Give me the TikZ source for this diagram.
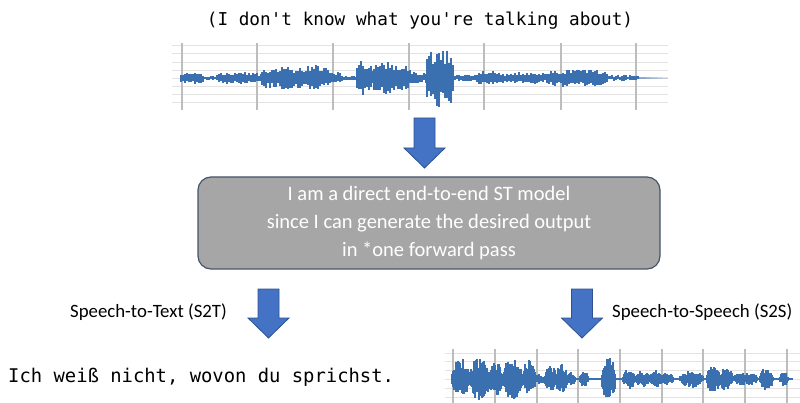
\documentclass[tikz,border=0pt]{standalone}
\usepackage{fontspec}
\setmainfont{Carlito}
\newfontfamily\monofont{DejaVu Sans Mono}

\definecolor{wavecol}{HTML}{3A70B0}
\definecolor{arrowfill}{HTML}{4472C4}
\definecolor{arrowline}{HTML}{2F528F}
\definecolor{boxfill}{HTML}{A6A6A6}
\definecolor{boxline}{HTML}{44546A}
\definecolor{gridh}{HTML}{E3E3E3}
\definecolor{gridv}{HTML}{BDBDBD}

\tikzset{
  wavebar/.style={draw=wavecol, line cap=butt},
  gridhline/.style={draw=gridh, line width=0.9pt},
  gridvline/.style={draw=gridv, line width=1.3pt},
  blockarrow/.style={fill=arrowfill, draw=arrowline, line width=0.8pt, line join=miter},
  modelbox/.style={rectangle, rounded corners=13pt, fill=boxfill, draw=boxline,
    line width=1.2pt, minimum width=462pt, minimum height=92pt},
  labeltext/.style={inner sep=0pt, font=\fontsize{18.8}{22}\selectfont},
  monotext/.style={inner sep=0pt},
}

% one burst of a waveform: x0, x1, centre y, amplitude, bar step, bar width, envelope exponent
\newcommand\wseg[7]{%
  \pgfmathtruncatemacro\wn{(#2-#1)/#5}%
  \foreach \i in {0,...,\wn}{%
    \pgfmathsetmacro\wx{#1+\i*#5}%
    \pgfmathsetmacro\wt{(\i+0.5)/(\wn+1)}%
    \pgfmathsetmacro\we{#4*pow(sin(180*\wt),#7)}%
    \pgfmathsetmacro\wu{\we*(0.45+0.55*rnd)}%
    \pgfmathsetmacro\wd{\we*(0.45+0.55*rnd)}%
    \draw[wavebar, line width=#6] (\wx,#3-\wu) -- (\wx,#3+\wd);
  }}
\newcommand\wa[3]{\wseg{#1}{#2}{78}{#3}{2}{1.7pt}{0.15}}
\newcommand\wb[3]{\wseg{#1}{#2}{379}{#3}{1}{1.3pt}{0.4}}

% block arrow pointing down: centre x, top y, neck y, tip y
\newcommand\blockdown[4]{%
  \draw[blockarrow] (#1-10.5,#2) -- (#1+10.5,#2) -- (#1+10.5,#3) -- (#1+20.5,#3)
    -- (#1,#4) -- (#1-20.5,#3) -- (#1-10.5,#3) -- cycle;}

\begin{document}
\begin{tikzpicture}[x=1pt, y=-1pt]
  \useasboundingbox (0,0) rectangle (800,403);
  \pgfmathsetseed{4242}

  % source sentence
  \node[monotext, anchor=base, font=\monofont\fontsize{17.7}{20}\selectfont] (src) at (420,26)
    {(I don't know what you're talking about)};

  % ---------- input waveform ----------
  \foreach \gy in {45,53,62,70,78,86,94,102}
    \draw[gridhline] (172,\gy) -- (668,\gy);
  \foreach \gx in {182,257,333,409,484,561,636}
    \draw[gridvline] (\gx,43) -- (\gx,110);
  \draw[wavebar, line width=1.5pt] (181,78) -- (612,78);
  \wa{181}{203}{6.5}
  \wa{203}{217}{2}
  \wa{217}{262}{6}
  \wa{262}{296}{12}
  \wa{296}{328}{13}
  \wa{328}{342}{6}
  \wa{342}{357}{2.5}
  \wa{357}{372}{19}
  \wa{372}{410}{16}
  \wa{410}{427}{6}
  \wa{427}{453}{30}
  \wa{453}{477}{3.5}
  \wa{477}{503}{7}
  \wa{503}{547}{6}
  \wa{547}{608}{9}
  \wa{608}{638}{3}
  \foreach \k in {0,...,9}{
    \pgfmathsetmacro\op{1-\k*0.09}
    \draw[wavebar, line width=1.3pt, opacity=\op] (612+\k*5.6,78) -- (617.6+\k*5.6,78);
  }

  % arrow into the model
  \blockdown{424.5}{118}{148}{168}

  % the model
  \node[modelbox, text=white, align=center,
        font=\fontsize{20.5}{28}\selectfont] (model) at (429,223)
    {I am a direct end-to-end ST model\\
     since I can generate the desired output\\
     in *one forward pass};

  % ---------- speech-to-text branch ----------
  \blockdown{268.5}{289}{318}{338}
  \node[labeltext, anchor=base east] (s2t) at (227,317) {Speech-to-Text (S2T)};
  \node[monotext, anchor=base west, font=\monofont\fontsize{18.85}{21}\selectfont] (tgt) at (8,382)
    {Ich weiß nicht, wovon du sprichst.};

  % ---------- speech-to-speech branch ----------
  \blockdown{582}{289}{318}{338}
  \node[labeltext, anchor=base west] (s2s) at (612,317) {Speech-to-Speech (S2S)};

  \foreach \gy in {353,361,370,379,388,397}
    \draw[gridhline] (445,\gy) -- (800,\gy);
  \foreach \gx in {453,495,537,578,620,662,703,745,787}
    \draw[gridvline] (\gx,349) -- (\gx,403);
  \draw[wavebar, line width=1.4pt] (451,379) -- (793,379);
  \wb{452}{470}{20}
  \wb{470}{490}{22}
  \wb{490}{502}{17}
  \wb{503}{522}{21}
  \wb{523}{535}{19}
  \wb{536}{544}{5}
  \wb{545}{556}{14}
  \wb{556}{567}{15}
  \wb{567}{575}{7}
  \wb{580}{588}{8}
  \wb{602}{615}{23}
  \wb{623}{635}{10}
  \wb{635}{650}{8}
  \wb{650}{662}{9}
  \wb{662}{673}{7}
  \wb{680}{703}{9}
  \wb{707}{720}{14}
  \wb{720}{733}{12}
  \wb{733}{758}{7}
  \wb{760}{773}{12}
  \wb{780}{788}{7}
\end{tikzpicture}
\end{document}
